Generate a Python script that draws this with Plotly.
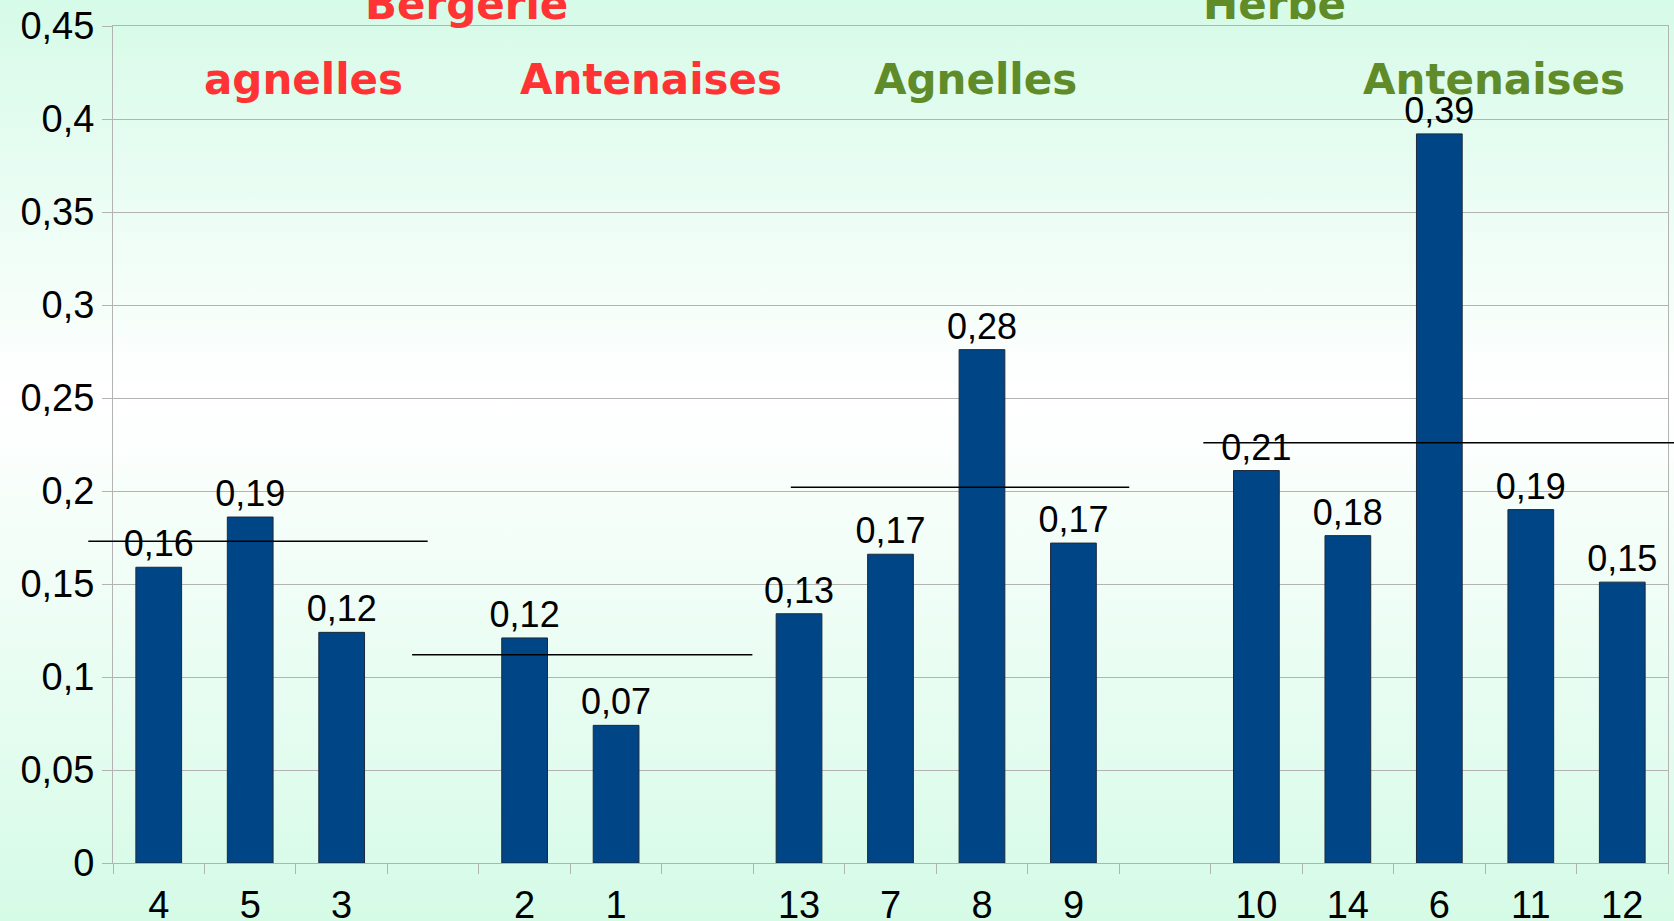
import base64
import plotly.graph_objects as go

# ---------------- data ----------------
categories = ["4", "5", "3", " ", "2", "1", "  ", "13", "7", "8", "9", "   ", "10", "14", "6", "11", "12"]
values = [0.159, 0.186, 0.124, None, 0.121, 0.074, None, 0.134, 0.166, 0.276, 0.172, None, 0.211, 0.176, 0.392, 0.190, 0.151]
value_labels = ["0,16", "0,19", "0,12", None, "0,12", "0,07", None, "0,13", "0,17", "0,28", "0,17", None, "0,21", "0,18", "0,39", "0,19", "0,15"]

y_tick_vals = [0, 0.05, 0.1, 0.15, 0.2, 0.25, 0.3, 0.35, 0.4, 0.45]
y_tick_text = ["0", "0,05", "0,1", "0,15", "0,2", "0,25", "0,3", "0,35", "0,4", "0,45"]
y_max = 0.45

# group reference lines (value, from category index, to category index)
group_line_values = [0.173, 0.112, 0.202, 0.226]
group_line_from = [-0.77, 2.77, 6.91, 11.42]
group_line_to = [2.94, 6.49, 10.61, 17.2]

# group titles
sub_titles = ["agnelles", "Antenaises", "Agnelles", "Antenaises"]
sub_title_pos = [1.58, 5.38, 8.93, 14.6]
sub_title_colors = ["#ff3333", "#ff3333", "#5f8b28", "#5f8b28"]
main_titles = ["Bergerie", "Herbe"]
main_title_pos = [3.37, 12.2]
main_title_colors = ["#ff3333", "#5f8b28"]
sub_title_level = 0.421
main_title_level = 0.4613

# ---------------- layout geometry ----------------
W, H = 1674, 921
ML, MR, MT, MB = 113, 6, 26, 58
n_cat = len(categories)


def cat_to_paper(i):
    return (i + 0.5) / n_cat


def val_to_paper(v):
    return v / y_max


fig = go.Figure()
fig.add_trace(go.Bar(
    x=categories,
    y=values,
    text=value_labels,
    textposition="outside",
    constraintext="none",
    cliponaxis=False,
    textfont=dict(family="Liberation Sans, Arial, sans-serif", size=36, color="black"),
    marker=dict(color="#004586", line=dict(color="#1c2a3a", width=1)),
    width=0.5,
    hoverinfo="x+y",
))

shapes = []
for v, a, b in zip(group_line_values, group_line_from, group_line_to):
    shapes.append(dict(type="line", xref="paper", yref="y",
                       x0=cat_to_paper(a), x1=cat_to_paper(b), y0=v, y1=v,
                       line=dict(color="black", width=1.5), layer="above"))

annotations = []
for t, p, c in zip(sub_titles, sub_title_pos, sub_title_colors):
    annotations.append(dict(text="<b>%s</b>" % t, x=cat_to_paper(p), y=val_to_paper(sub_title_level),
                            xref="paper", yref="paper",
                            showarrow=False, xanchor="center", yanchor="middle",
                            font=dict(family="DejaVu Sans, Verdana, sans-serif", size=42, color=c)))
for t, p, c in zip(main_titles, main_title_pos, main_title_colors):
    annotations.append(dict(text="<b>%s</b>" % t, x=cat_to_paper(p), y=val_to_paper(main_title_level),
                            xref="paper", yref="paper",
                            showarrow=False, xanchor="center", yanchor="middle",
                            font=dict(family="DejaVu Sans, Verdana, sans-serif", size=42, color=c)))

# background gradient (mint -> white -> mint) as an svg image
svg = (
    '<svg xmlns="http://www.w3.org/2000/svg" width="%d" height="%d" preserveAspectRatio="none">'
    '<defs><linearGradient id="g" x1="0" y1="0" x2="0" y2="1">'
    '<stop offset="0" stop-color="#d6fbe8"/>'
    '<stop offset="0.43" stop-color="#ffffff"/>'
    '<stop offset="1" stop-color="#d5fbe7"/>'
    '</linearGradient></defs>'
    '<rect x="0" y="0" width="100%%" height="100%%" fill="url(#g)"/></svg>' % (W, H)
)
src = "data:image/svg+xml;base64," + base64.b64encode(svg.encode()).decode()
pw = W - ML - MR
ph = H - MT - MB
images = [dict(source=src, xref="paper", yref="paper",
               x=-ML / pw, y=1 + MT / ph, sizex=W / pw, sizey=H / ph,
               xanchor="left", yanchor="top", sizing="stretch", layer="below")]

fig.update_layout(
    width=W, height=H,
    margin=dict(l=ML, r=MR, t=MT, b=MB, pad=0, autoexpand=False),
    paper_bgcolor="#e6fcf0",
    plot_bgcolor="rgba(0,0,0,0)",
    font=dict(family="Liberation Sans, Arial, sans-serif", size=38, color="black"),
    showlegend=False,
    bargap=0.5,
    shapes=shapes,
    annotations=annotations,
    images=images,
    xaxis=dict(type="category", categoryorder="array", categoryarray=categories,
               range=[-0.5, n_cat - 0.5], automargin=False,
               tickson="boundaries", ticks="outside", ticklen=10, tickcolor="#b3b3b3",
               showline=True, linecolor="#b3b3b3", linewidth=1, mirror=True,
               showgrid=False, tickfont=dict(size=38), ticklabelstandoff=8),
    yaxis=dict(range=[0, y_max], tickvals=y_tick_vals, ticktext=y_tick_text, automargin=False,
               ticks="outside", ticklen=10, tickcolor="#b3b3b3",
               showline=True, linecolor="#b3b3b3", linewidth=1, mirror=True,
               showgrid=True, gridcolor="#b3b3b3", gridwidth=1, zeroline=False,
               tickfont=dict(size=38)),
)

fig.write_html("out.html", config={"displayModeBar": False},
               post_script="document.body.style.margin='0';document.body.style.overflow='hidden';")
